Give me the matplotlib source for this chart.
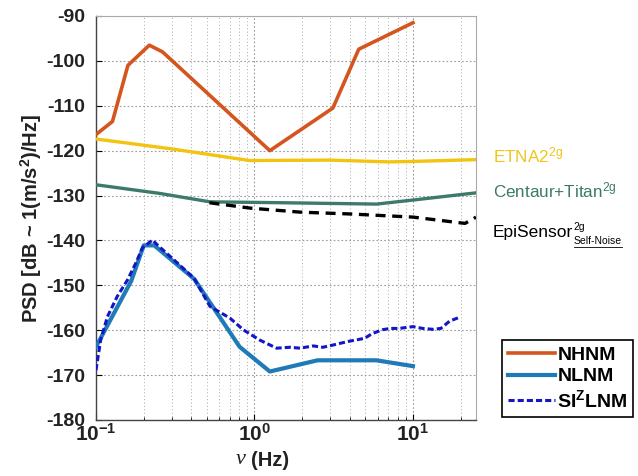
import numpy as np
import matplotlib
matplotlib.use("Agg")
import matplotlib.pyplot as plt
from matplotlib.ticker import FixedLocator, NullFormatter
from matplotlib.lines import Line2D

plt.rcParams['font.family'] = ['Liberation Sans', 'DejaVu Sans']
plt.rcParams['mathtext.fontset'] = 'custom'
plt.rcParams['mathtext.rm'] = 'Liberation Sans'
plt.rcParams['mathtext.bf'] = 'Liberation Sans:bold'
plt.rcParams['mathtext.it'] = 'Liberation Sans:italic'

# ---- data ----
nhnm_f = [0.1, 0.127, 0.159, 0.217, 0.263, 1.25, 3.125, 4.55, 10.0]
nhnm_db = [-116.4, -113.5, -101.0, -96.5, -98.0, -120.0, -110.5, -97.4, -91.5]

nlnm_f = [0.1, 0.167, 0.2, 0.233, 0.417, 0.806, 1.25, 2.5, 5.88, 10.0]
nlnm_db = [-163.7, -149.0, -141.1, -141.1, -148.6, -163.7, -169.2, -166.7, -166.7, -168.0]

siz_f = [0.1, 0.107, 0.118, 0.136, 0.158, 0.178, 0.196, 0.227, 0.244, 0.31, 0.415,
         0.524, 0.7, 0.85, 1.08, 1.38, 1.67, 1.94, 2.35, 2.7, 3.13, 3.9, 4.96,
         5.5, 6.4, 7.2, 8.2, 9.0, 10.0, 11.5, 13.4, 15.0, 17.0, 19.7]
siz_db = [-168.9, -162.2, -157.0, -152.5, -148.8, -145.1, -141.7, -139.9, -141.0, -144.3, -148.4,
          -154.7, -157.3, -159.9, -162.2, -164.0, -163.8, -164.0, -163.5, -163.8, -163.3, -162.5, -161.8,
          -160.8, -159.9, -159.6, -159.6, -159.4, -159.2, -159.6, -159.8, -159.6, -158.0, -157.1]

etna_f = [0.1, 0.3, 0.93, 3.0, 7.0, 10.0, 25.0]
etna_db = [-117.4, -119.6, -122.2, -122.1, -122.5, -122.4, -122.0]

centaur_f = [0.1, 0.25, 0.524, 1.5, 5.9, 10.0, 25.0]
centaur_db = [-127.6, -129.5, -131.4, -131.6, -131.9, -131.0, -129.4]

epi_f = [0.52, 0.94, 1.95, 4.0, 10.0, 21.3, 24.0, 25.0]
epi_db = [-131.6, -132.8, -133.7, -134.1, -134.8, -136.2, -135.2, -134.8]

yticks = [-180, -170, -160, -150, -140, -130, -120, -110, -100, -90]
xticks = [0.1, 1.0, 10.0]
xticklabels = [r'$\mathbf{10^{-1}}$', r'$\mathbf{10^{0}}$', r'$\mathbf{10^{1}}$']

# ---- figure ----
fig = plt.figure(figsize=(6.38, 4.76), dpi=100)
ax = fig.add_axes([96/638, 1-420/476, 380/638, 404/476])

ax.plot(etna_f, etna_db, color='#f2c30f', lw=2.4, zorder=3)
ax.plot(centaur_f, centaur_db, color='#3c7a6b', lw=2.4, zorder=3)
ax.plot(epi_f, epi_db, color='black', lw=2.4, ls=(0, (3, 2)), zorder=3)
l1, = ax.plot(nhnm_f, nhnm_db, color='#d4561e', lw=2.6, zorder=4, label='NHNM')
l2, = ax.plot(nlnm_f, nlnm_db, color='#1f7ab8', lw=3.0, zorder=4, label='NLNM')
l3, = ax.plot(siz_f, siz_db, color='#1414c8', lw=2.2, ls=(0, (2, 1)), zorder=5,
              label=r'SI$^{\mathbf{Z}}$LNM')

ax.set_xscale('log')
ax.set_xlim(0.1, 25)
ax.set_ylim(-180, -90)
ax.set_yticks(yticks)
ax.set_yticklabels([str(v) for v in yticks], fontsize=14, fontweight='bold', color='#222222')
ax.xaxis.set_major_locator(FixedLocator(xticks))
ax.set_xticklabels(xticklabels, fontsize=15, color='#222222')
ax.xaxis.set_minor_formatter(NullFormatter())
ax.tick_params(axis='both', which='major', direction='in', length=4, top=False, right=False)
ax.tick_params(axis='y', pad=8)
ax.tick_params(axis='x', which='minor', direction='in', length=2.5)
ax.tick_params(axis='x', pad=2)

ax.grid(True, which='major', axis='both', color='#999999', ls=(0, (1.5, 2)), lw=0.8)
ax.grid(True, which='minor', axis='x', color='#aaaaaa', ls=(0, (1, 2.5)), lw=0.7)

for s in ['top', 'right']:
    ax.spines[s].set_color('#aaaaaa')
    ax.spines[s].set_linewidth(0.8)
for s in ['left', 'bottom']:
    ax.spines[s].set_color('#444444')
    ax.spines[s].set_linewidth(1.0)

ax.set_ylabel(r'PSD [dB ~ 1(m/s$^{\mathbf{2}}$)/Hz]', fontsize=14.5, fontweight='bold',
              color='#222222', labelpad=1)

# x label: italic nu + bold (Hz)
fig.text(241/638, 1-460/476, 'ν', fontsize=16, family='Liberation Serif', style='italic',
         ha='center', va='center', color='#222222')
fig.text(251/638, 1-460/476, '(Hz)', fontsize=14.5, fontweight='bold',
         ha='left', va='center', color='#222222')

# right-hand sensor labels
fig.text(493/638, 1-155/476, r'ETNA2$^{\mathrm{2g}}$', fontsize=12.3, color='#f0c41a', va='center')
fig.text(493/638, 1-190/476, r'Centaur+Titan$^{\mathrm{2g}}$', fontsize=12.3, color='#3c7a6b',
         va='center')

renderer = fig.canvas.get_renderer()
t_epi = fig.text(493/638, 1-237/476, 'EpiSensor', fontsize=12.5, color='black', va='baseline')
bb = t_epi.get_window_extent(renderer)
x_end = bb.x1 / fig.dpi / 6.38
fig.text(x_end + 0.5/638, 1-230/476, '2g', fontsize=7.5, color='black', va='baseline')
t_sub = fig.text(x_end + 0.5/638, 1-244/476, 'Self-Noise', fontsize=7.5, color='black',
                 va='baseline')
bs = t_sub.get_window_extent(renderer)
uy = 1-246.5/476
fig.add_artist(Line2D([bs.x0 / 638, bs.x1 / 638], [uy, uy], transform=fig.transFigure,
                      color='black', lw=0.6))

leg = fig.legend(handles=[l1, l2, l3], loc='lower left',
                 bbox_to_anchor=(502/638, 1-417/476, 131/638, 82/476), mode='expand',
                 prop={'weight': 'bold', 'size': 14}, fancybox=False, framealpha=1,
                 edgecolor='black', handlelength=2.4, handletextpad=0.15, borderpad=0.3,
                 labelspacing=0.2, borderaxespad=0)
leg.get_frame().set_linewidth(1.2)

fig.savefig('out.png', dpi=100)
